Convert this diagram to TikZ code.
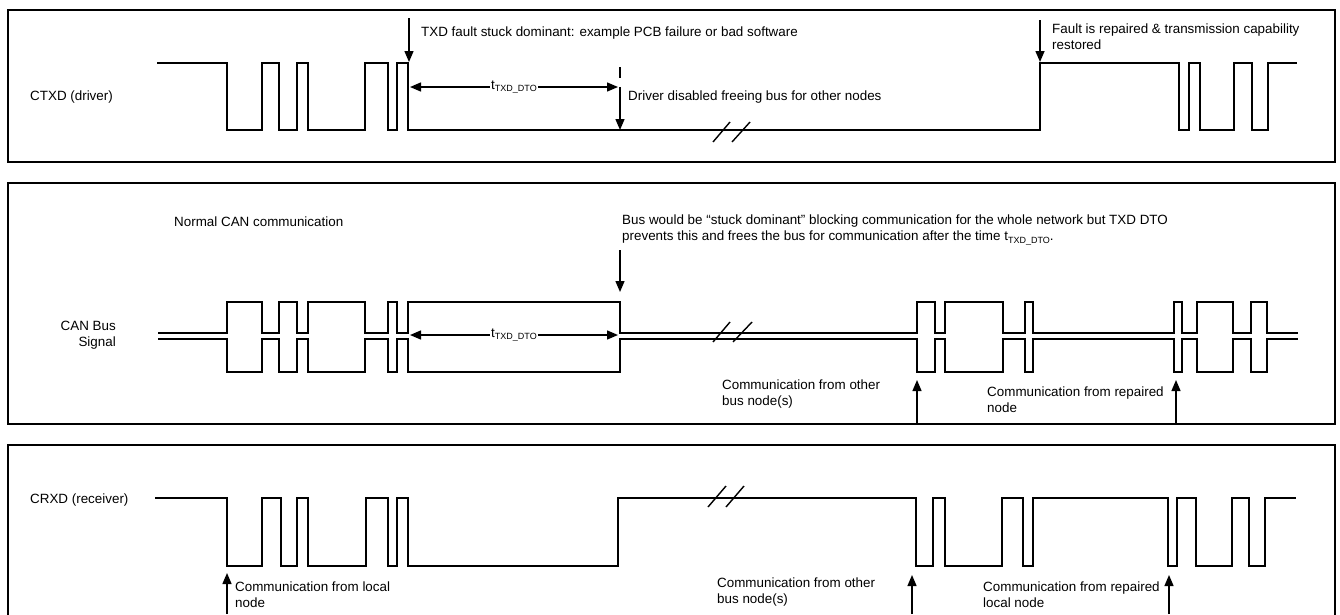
\documentclass[tikz,border=0pt]{standalone}
\usepackage{fontspec}
\setmainfont{Liberation Sans}
\usetikzlibrary{arrows.meta}
\newcommand{\tdto}{t\raisebox{-2.5pt}{\fontsize{9}{9}\selectfont TXD\_DTO}}
\begin{document}
\begin{tikzpicture}[x=1pt,y=-1pt,
panel/.style={draw=black,line width=1.8pt},
wave/.style={draw=black,line width=1.7pt},
arr/.style={-{Triangle[length=11pt,width=9pt]},draw=black,line width=1.4pt},
dimarr/.style={{Triangle[length=11pt,width=9pt]}-{Triangle[length=11pt,width=9pt]},draw=black,line width=1.4pt},
txt/.style={font=\fontsize{13.4}{16}\selectfont,inner sep=0pt,anchor=west,align=left},
dimlbl/.style={font=\fontsize{13.4}{16}\selectfont,fill=white,inner sep=1.5pt},
brk/.style={draw=black,line width=1.4pt}]
\useasboundingbox (0,0) rectangle (1340,614);
\clip (0,0) rectangle (1340,614);
% panels
\draw[panel] (8,10) rectangle (1335,162);
\draw[panel] (8,183) rectangle (1335,424);
\draw[panel] (8,640) -- (8,445) -- (1335,445) -- (1335,640);
% CTXD (driver)
\node[txt] (ctxd) at (30,97) {CTXD (driver)};
\draw[wave] (157,63) -| (227,130) -| (262,63) -| (279,130) -| (297,63) -| (308,130) -| (365,63) -| (388,130) -| (397,63) -| (408,130)
  -| (1040,63) -| (1179,130) -| (1189,63) -| (1200,130) -| (1234,63) -| (1252,130) -| (1268,63) -- (1297,63);
\draw[brk] (713,142) -- (730,122) (732,142) -- (750,122);
\node[txt] (fault) at (421,33) {TXD fault stuck dominant: example PCB failure or bad software};
\coordinate (faultA) at (409,18);
\coordinate (faultB) at (409,62);
\draw[arr] (faultA) -- (faultB);
\coordinate (dtoL) at (410,87);
\coordinate (dtoR) at (618,87);
\draw[dimarr] (dtoL) -- (dtoR) node[midway,dimlbl] (dto1) {\tdto};
\coordinate (offA) at (620,67);
\coordinate (offB) at (620,78);
\coordinate (offC) at (620,87);
\coordinate (offD) at (620,130);
\draw[line width=1.4pt] (offA) -- (offB);
\draw[arr] (offC) -- (offD);
\node[txt] (freed) at (628,97) {Driver disabled freeing bus for other nodes};
\coordinate (fixA) at (1040,20);
\coordinate (fixB) at (1040,62);
\draw[arr] (fixA) -- (fixB);
\node[txt] (fixed) at (1052,37) {Fault is repaired \& transmission capability\\restored};
% CAN bus signal
\node[txt,anchor=east,align=right] (can) at (116,335) {CAN Bus\\Signal};
\node[txt] (normal) at (174,222) {Normal CAN communication};
\draw[wave] (158,333) -| (227,302) -| (262,333) -| (279,302) -| (297,333) -| (308,302) -| (365,333) -| (388,302) -| (397,333) -| (408,302)
  -| (620,333) -| (917,302) -| (935,333) -| (945,302) -| (1003,333) -| (1025,302) -| (1033,333)
  -| (1174,302) -| (1182,333) -| (1197,302) -| (1233,333) -| (1251,302) -| (1267,333) -- (1298,333);
\draw[wave] (158,339) -| (227,372) -| (262,339) -| (279,372) -| (297,339) -| (308,372) -| (365,339) -| (388,372) -| (397,339) -| (408,372)
  -| (620,339) -| (917,372) -| (935,339) -| (945,372) -| (1003,339) -| (1025,372) -| (1033,339)
  -| (1174,372) -| (1182,339) -| (1197,372) -| (1233,339) -| (1251,372) -| (1267,339) -- (1298,339);
\draw[brk] (713,342) -- (730,322) (733,342) -- (752,322);
\node[txt] (stuck) at (622,230) {Bus would be “stuck dominant” blocking communication for the whole network but TXD DTO\\prevents this and frees the bus for communication after the time \tdto.};
\coordinate (stuckA) at (620,250);
\coordinate (stuckB) at (620,292);
\draw[arr] (stuckA) -- (stuckB);
\coordinate (dtoL2) at (410,335);
\coordinate (dtoR2) at (618,335);
\draw[dimarr] (dtoL2) -- (dtoR2) node[midway,dimlbl] (dto2) {\tdto};
\node[txt] (other) at (722,394) {Communication from other\\bus node(s)};
\coordinate (otherA) at (917,424);
\coordinate (otherB) at (917,380);
\draw[arr] (otherA) -- (otherB);
\node[txt] (rep) at (987,400) {Communication from repaired\\node};
\coordinate (repA) at (1176,424);
\coordinate (repB) at (1176,380);
\draw[arr] (repA) -- (repB);
% CRXD (receiver)
\node[txt] (crxd) at (30,500) {CRXD (receiver)};
\draw[wave] (155,498) -| (227,566) -| (262,498) -| (281,566) -| (297,498) -| (308,566) -| (366,498) -| (388,566) -| (397,498) -| (408,566)
  -| (618,498) -| (916,566) -| (933,498) -| (945,566) -| (1002,498) -| (1023,566) -| (1033,498)
  -| (1168,566) -| (1177,498) -| (1196,566) -| (1232,498) -| (1249,566) -| (1265,498) -- (1296,498);
\draw[brk] (708,507) -- (726,486) (726,507) -- (744,486);
\node[txt] (local) at (235,595) {Communication from local\\node};
\coordinate (localA) at (227,614);
\coordinate (localB) at (227,573);
\draw[arr] (localA) -- (localB);
\node[txt] (other2) at (717,592) {Communication from other\\bus node(s)};
\coordinate (other2A) at (912,614);
\coordinate (other2B) at (912,575);
\draw[arr] (other2A) -- (other2B);
\node[txt] (rep2) at (983,595) {Communication from repaired\\local node};
\coordinate (rep2A) at (1169,614);
\coordinate (rep2B) at (1169,575);
\draw[arr] (rep2A) -- (rep2B);
\end{tikzpicture}
\end{document}
